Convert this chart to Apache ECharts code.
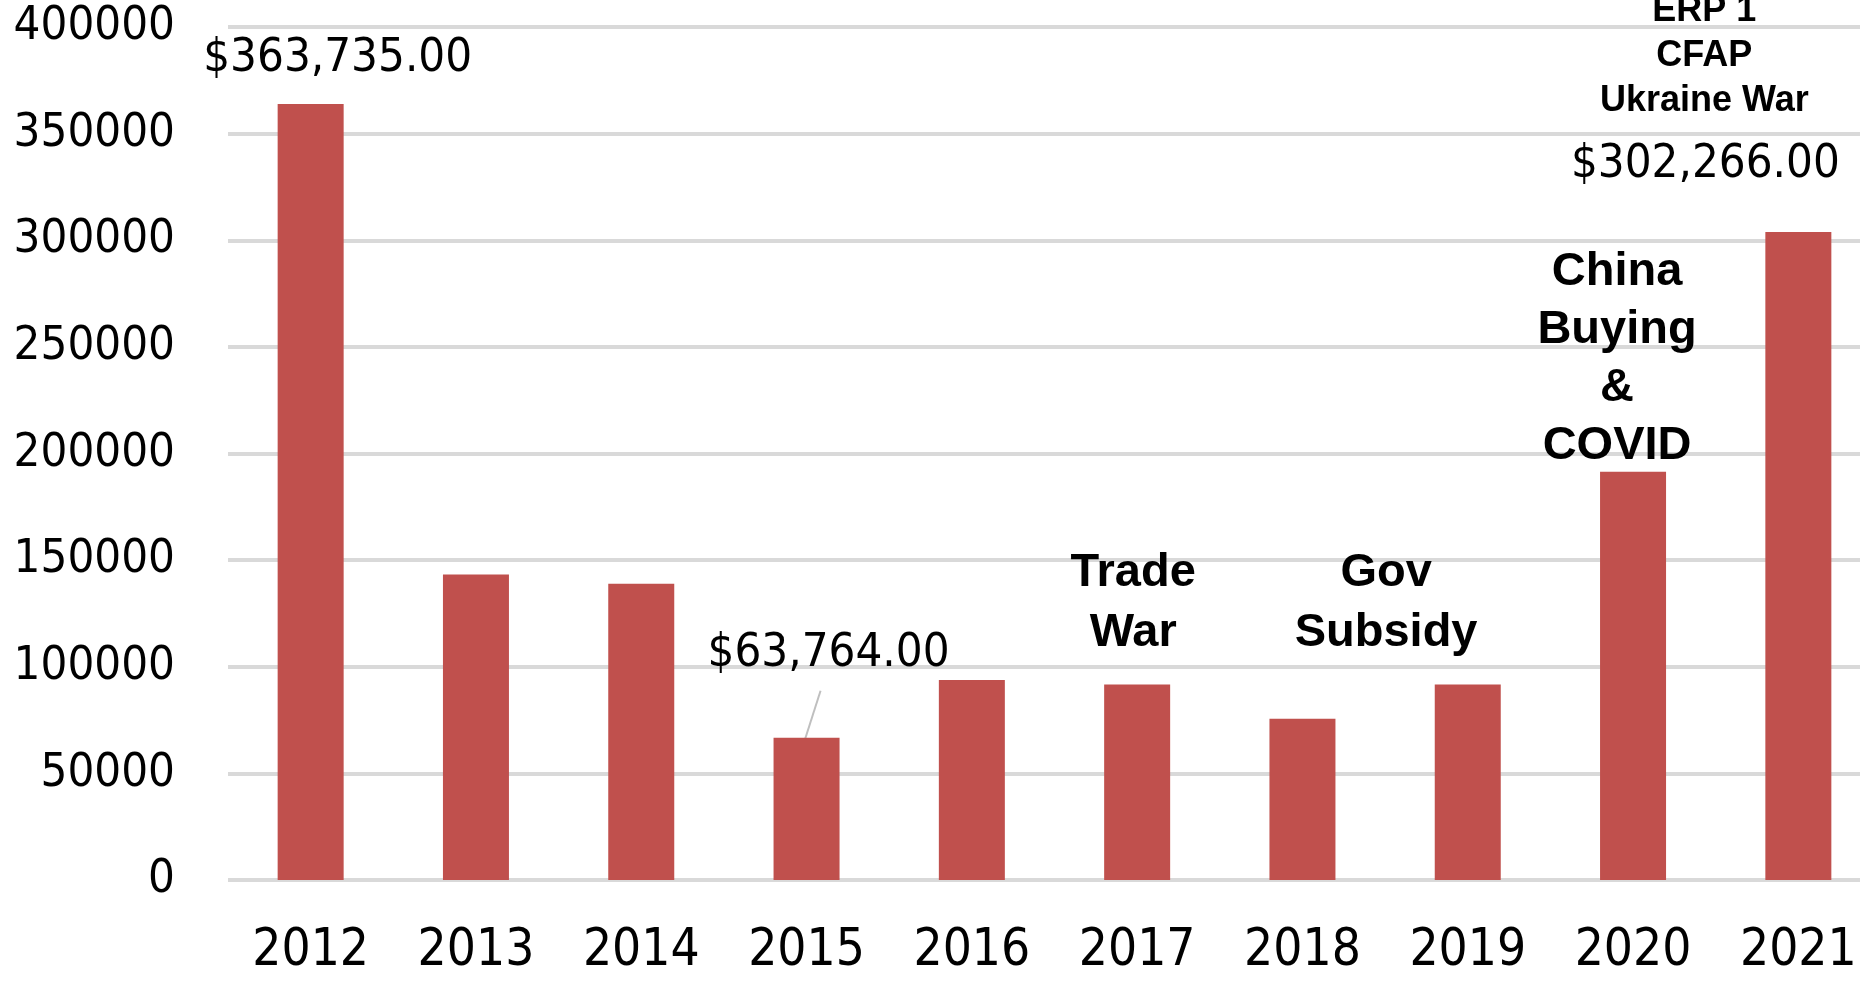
<!DOCTYPE html>
<html>
<head>
<meta charset="utf-8">
<script src="https://cdn.jsdelivr.net/npm/echarts@6/dist/echarts.min.js"></script>
<style>
  html, body { margin: 0; padding: 0; background: #fff; }
  #main { width: 1860px; height: 987px; }
</style>
</head>
<body>
<div id="main"></div>
<script>
const years = ['2012', '2013', '2014', '2015', '2016', '2017', '2018', '2019', '2020', '2021'];
const values = [363900, 143300, 138900, 66700, 93800, 91700, 75600, 91700, 191400, 303900];
const valueLabels = ['$363,735.00', '', '', '$63,764.00', '', '', '', '', '', '$302,266.00'];
const yTicks = [0, 50000, 100000, 150000, 200000, 250000, 300000, 350000, 400000];

// notes written over the bars
const noteTexts = ['Trade\nWar', 'Gov\nSubsidy', 'China\nBuying\n&\nCOVID', 'ERP 1\nCFAP\nUkraine War'];

// layout stuff (kept apart from the data)
const labelOffsets = [[27, -22], null, null, [22, -60], null, null, null, null, null, [-93, -44]];
const noteLayout = [
    {cat: [5], dx: -4, y: 603, size: 47, lh: 60},
    {cat: [6, 7], dx: 1, y: 603, size: 47, lh: 60},
    {cat: [8], dx: -16, y: 359, size: 47, lh: 57.7},
    {cat: [9], dx: -94, y: 56, size: 36, lh: 45.3}
];

const narrow = '"Liberation Sans Narrow", "DejaVu Sans Condensed", sans-serif';
const barColor = '#c0504d';

let chart = echarts.init(document.getElementById('main'));

let option = {
    animation: false,
    grid: {
        left: 228,
        right: -21,
        top: 27,
        bottom: 107,
        containLabel: false,
        outerBoundsMode: 'none'
    },
    xAxis: {
        type: 'category',
        data: years,
        axisLine: {show: false},
        axisTick: {show: false},
        axisLabel: {
            interval: 0,
            margin: 46,
            color: '#000',
            fontSize: 51,
            fontFamily: narrow
        }
    },
    yAxis: {
        type: 'value',
        min: yTicks[0],
        max: yTicks[yTicks.length - 1],
        interval: yTicks[1] - yTicks[0],
        axisLine: {show: false},
        axisTick: {show: false},
        axisLabel: {
            margin: 53,
            color: '#000',
            fontSize: 47,
            fontFamily: narrow,
            formatter: (v) => String(v)
        },
        splitLine: {
            lineStyle: {color: '#d9d9d9', width: 4}
        }
    },
    series: [
        {
            type: 'bar',
            barWidth: 66,
            itemStyle: {color: barColor},
            label: {
                show: true,
                position: 'top',
                distance: 0,
                color: '#000',
                fontSize: 47,
                fontFamily: narrow,
                formatter: (p) => valueLabels[p.dataIndex]
            },
            data: values.map((v, i) => ({
                value: v,
                label: valueLabels[i] ? {offset: labelOffsets[i]} : {show: false}
            }))
        }
    ]
};
chart.setOption(option);

// notes + the little leader line on 2015
let graphics = noteTexts.map((t, i) => {
    let l = noteLayout[i];
    let xs = l.cat.map(c => chart.convertToPixel({xAxisIndex: 0}, c));
    let x = xs.reduce((a, b) => a + b, 0) / xs.length + l.dx;
    return {
        type: 'text',
        x: x,
        y: l.y,
        silent: true,
        style: {
            text: t,
            align: 'center',
            verticalAlign: 'middle',
            fontSize: l.size,
            fontWeight: 'bold',
            fontFamily: '"Liberation Sans", Arial, sans-serif',
            lineHeight: l.lh,
            fill: '#000'
        }
    };
});

let p15 = chart.convertToPixel({gridIndex: 0}, [3, values[3]]);
graphics.push({
    type: 'line',
    silent: true,
    shape: {x1: p15[0] - 2, y1: p15[1] + 3, x2: p15[0] + 14, y2: p15[1] - 47},
    style: {stroke: '#bfbfbf', lineWidth: 2}
});

chart.setOption({graphic: graphics});
</script>
</body>
</html>
